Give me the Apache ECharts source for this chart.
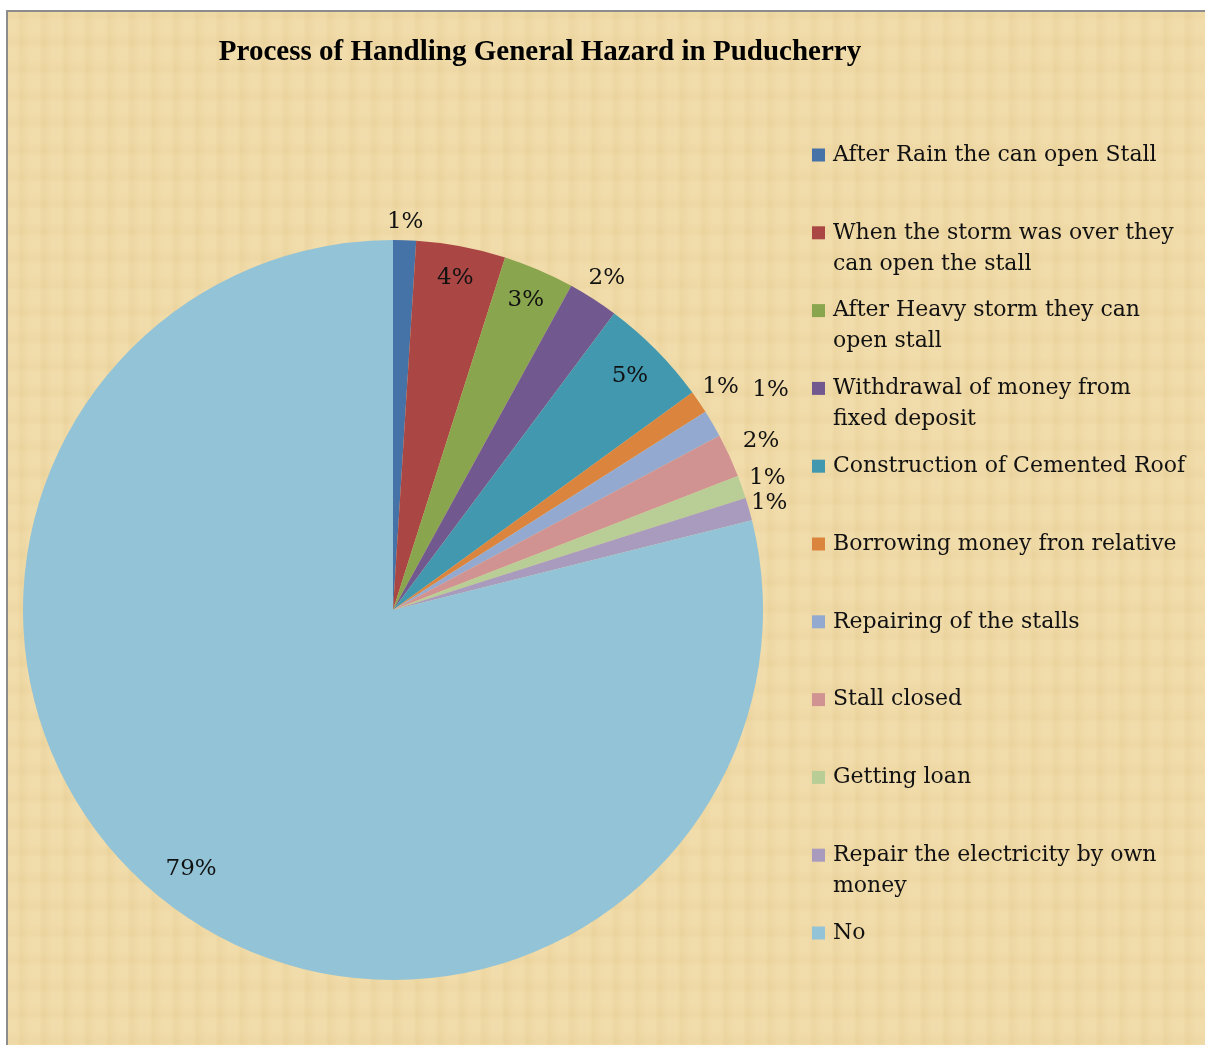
<!DOCTYPE html>
<html>
<head>
<meta charset="utf-8">
<script src="https://cdn.jsdelivr.net/npm/echarts@6.0.0/dist/echarts.min.js"></script>
<style>
  html, body { margin: 0; padding: 0; background: #fff; }
  /* parchment panel, only left and top border are visible in the picture */
  #frame {
    position: absolute; left: 6px; top: 10px; width: 1300px; height: 1100px;
    border-left: 2px solid #8c8c8c; border-top: 2px solid #8c8c8c;
    background-color: #eed7a2;
    background-image:
      repeating-linear-gradient(90deg, rgba(255,244,212,0.10) 0px, rgba(255,244,212,0.10) 9px, rgba(200,170,100,0.06) 13px, rgba(255,244,212,0.10) 22px),
      repeating-linear-gradient(0deg, rgba(255,244,212,0.08) 0px, rgba(255,244,212,0.08) 11px, rgba(200,170,100,0.05) 16px, rgba(255,244,212,0.08) 27px);
  }
  #chart { position: absolute; left: 0; top: 0; width: 1205px; height: 1045px; }
</style>
</head>
<body>
<div id="frame"></div>
<div id="chart"></div>
<script>
// 分类
var categories = [
  'After Rain the can open Stall',
  'When the storm was over they can open the stall',
  'After Heavy storm they can open stall',
  'Withdrawal of money from fixed deposit',
  'Construction of Cemented Roof',
  'Borrowing money fron relative',
  'Repairing of the stalls',
  'Stall closed',
  'Getting loan',
  'Repair the electricity by own money',
  'No'
]
// 百分比
var shares = [1.0, 3.9, 3.1, 2.2, 4.8, 1.0, 1.2, 1.9, 1.0, 1.0, 78.9]

var colors = ['#4572a7', '#aa4643', '#89a54e', '#71588f', '#4198af', '#db843d',
  '#93a9cf', '#d19392', '#b9cd96', '#a99bbd', '#92c3d6']

// 标签离扇形外沿的距离, 负数 = 在扇形里面
var labelGap = [18, -32, -33, 25, -37, 26, 67, 35, 27, 21, -42]

var FONT = '"DejaVu Serif", serif'
var legendFontSize = 22
var lineH = 31

// 图例文字换行
var measureCtx = document.createElement('canvas').getContext('2d')
measureCtx.font = legendFontSize + 'px ' + FONT
function wrap(name, maxW) {
  var words = name.split(' ')
  var lines = []
  var cur = ''
  words.forEach(function(w) {
    var test = cur ? cur + ' ' + w : w
    if (cur && measureCtx.measureText(test).width > maxW) {
      lines.push(cur)
      cur = w
    } else {
      cur = test
    }
  })
  lines.push(cur)
  return lines
}

var chart = echarts.init(document.getElementById('chart'))

var pieData = categories.map(function(name, i) {
  return {
    name: name,
    value: shares[i],
    itemStyle: { color: colors[i] },
    labelLine: { show: false, length: labelGap[i], length2: 0 }
  }
})

chart.setOption({
  animation: false,
  backgroundColor: 'transparent',
  title: {
    text: 'Process of Handling General Hazard in Puducherry',
    left: 535,
    top: 33,
    textAlign: 'center',
    textStyle: {
      fontFamily: '"Liberation Serif", "Times New Roman", serif',
      fontWeight: 'bold',
      fontSize: 29,
      color: '#000'
    }
  },
  legend: {
    orient: 'vertical',
    left: 812,
    top: 155 - lineH * 1.5,
    padding: 0,
    itemGap: 77.8 - lineH * 3,
    itemWidth: 13,
    itemHeight: 13,
    icon: 'rect',
    selectedMode: false,
    data: categories,
    textStyle: {
      fontFamily: FONT,
      fontSize: legendFontSize,
      lineHeight: lineH,
      color: '#111',
      padding: [0, 0, 0, 3]
    },
    // 第一行和色块对齐: 统一成三行, 中间一行是名字的第一行
    formatter: function(name) {
      var lines = wrap(name, 355.5)
      if (lines.length > 1) {
        return '\n' + lines[0] + '\n' + lines.slice(1).join(' ')
      }
      return '\n' + name + '\n '
    }
  },
  series: [{
    type: 'pie',
    center: [393, 610],
    radius: 370,
    startAngle: 90,
    clockwise: true,
    avoidLabelOverlap: false,
    emphasis: { disabled: true },
    data: pieData,
    label: {
      show: true,
      position: 'outside',
      distanceToLabelLine: 0,
      fontFamily: FONT,
      fontSize: 23,
      color: '#111',
      formatter: function(p) {
        return Math.round(p.percent) + '%'
      }
    },
    labelLine: { show: false },
    labelLayout: function() {
      return { align: 'center', verticalAlign: 'middle' }
    }
  }]
})
</script>
</body>
</html>
